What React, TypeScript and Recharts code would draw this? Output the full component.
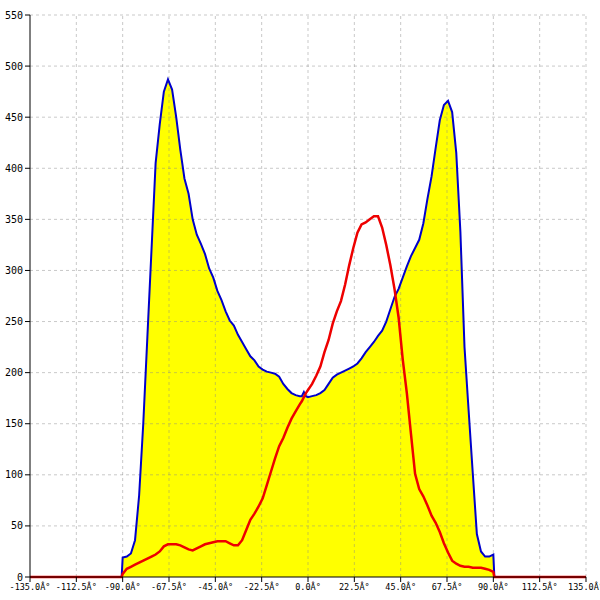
import React from "react";
import { ComposedChart, Area, Line, XAxis, YAxis, ReferenceLine } from "recharts";

const angles = [
  -135, -90.5, -90, -88, -86, -84, -82, -80, -78, -76, -74, -72, -70, -68, -66, -64, -62, -60,
  -58, -56, -54, -52, -50, -48, -46, -44, -42, -40, -38, -36, -34, -32, -30, -28, -26, -24,
  -22, -20, -18, -16, -14, -12, -10, -8, -6, -4, -3, -2, -1, 0, 2, 4, 6, 8, 10, 12, 14, 16, 18,
  20, 22, 24, 26, 28, 30, 32, 34, 36, 38, 40, 42, 44, 46, 48, 50, 52, 54, 56, 58, 60, 62, 64,
  66, 68, 70, 72, 74, 76, 78, 80, 82, 84, 86, 88, 90, 90.5, 135,
];

const blueSeries = [
  0, 0, 19, 20, 23, 36, 80, 150, 235, 320, 405, 443, 475, 487, 477, 450, 418, 390,
  375, 350, 335, 326, 316, 302, 293, 280, 271, 260, 251, 246, 237, 230, 223, 216, 212, 206,
  203, 201, 200, 199, 196, 189, 184, 180, 178, 177, 177, 181, 177, 176, 177, 178, 180, 183, 189, 195, 198, 200, 202,
  204, 206, 209, 214, 220, 225, 230, 236, 241, 250, 262, 274, 282, 293, 304, 314, 322, 330,
  346, 370, 392, 420, 447, 462, 466, 455, 415, 338, 225, 163, 102, 42, 25, 20, 20, 22, 0, 0,
];

const redSeries = [
  0, 0, 3, 8, 10, 12, 14, 16, 18, 20, 22, 25, 30, 32, 32, 32, 31, 29,
  27, 26, 28, 30, 32, 33, 34, 35, 35, 35, 33, 31, 31, 36, 46, 56, 62, 69,
  77, 90, 103, 116, 128, 136, 146, 155, 162, 169, 172, 176, 180, 183, 189, 197, 206, 220, 232, 248, 260, 270, 286,
  305, 322, 337, 345, 347, 350, 353, 353, 342, 325, 305, 282, 254, 213, 180, 140, 101, 86,
  79, 70, 60, 53, 44, 33, 24, 16, 13, 11, 10, 10, 9, 9, 9, 8, 7, 5, 0, 0,
];

const xTicks = [-135, -112.5, -90, -67.5, -45, -22.5, 0, 22.5, 45, 67.5, 90, 112.5, 135];
const yTicks = [0, 50, 100, 150, 200, 250, 300, 350, 400, 450, 500, 550];

const data = angles.map((a, i) => ({ x: a, blue: blueSeries[i], red: redSeries[i] }));

const fmtX = (v: number) => `${v.toFixed(1)}Â°`;

const gridProps = { stroke: "#888", strokeOpacity: 0.45, strokeDasharray: "3 3", strokeWidth: 1 };

export default function App() {
  return (
    <div style={{ position: "absolute", left: 0, top: 0, width: 600, height: 600, background: "#fff" }}>
      <ComposedChart width={600} height={600} data={data} margin={{ top: 15, right: 14, bottom: 0, left: 0 }}>
        <XAxis
          dataKey="x"
          type="number"
          domain={[-135, 135]}
          ticks={xTicks}
          tickFormatter={fmtX}
          interval={0}
          height={23}
          stroke="#000"
          tickSize={5}
          tickLine={{ stroke: "#000" }}
          tick={{ fill: "#000", fontSize: 8.5, fontFamily: "DejaVu Sans Mono" }}
          allowDataOverflow
        />
        <YAxis
          type="number"
          domain={[0, 550]}
          ticks={yTicks}
          interval={0}
          width={30}
          stroke="#000"
          tickSize={5}
          tickLine={{ stroke: "#000" }}
          tick={{ fill: "#000", fontSize: 10, fontFamily: "DejaVu Sans Mono" }}
        />
        <Area
          dataKey="blue"
          type="linear"
          fill="#ffff00"
          fillOpacity={1}
          stroke="none"
          isAnimationActive={false}
          dot={false}
          activeDot={false}
        />
        {xTicks.filter((t) => t !== -135).map((t) => (
          <ReferenceLine key={`vx${t}`} x={t} {...gridProps} />
        ))}
        {yTicks.filter((t) => t !== 0).map((t) => (
          <ReferenceLine key={`hy${t}`} y={t} {...gridProps} />
        ))}
        <Line dataKey="blue" type="linear" stroke="#0000cc" strokeWidth={2} dot={false} activeDot={false} isAnimationActive={false} />
        <Line dataKey="red" type="linear" stroke="#ee0000" strokeWidth={2.5} dot={false} activeDot={false} isAnimationActive={false} />
      </ComposedChart>
    </div>
  );
}
